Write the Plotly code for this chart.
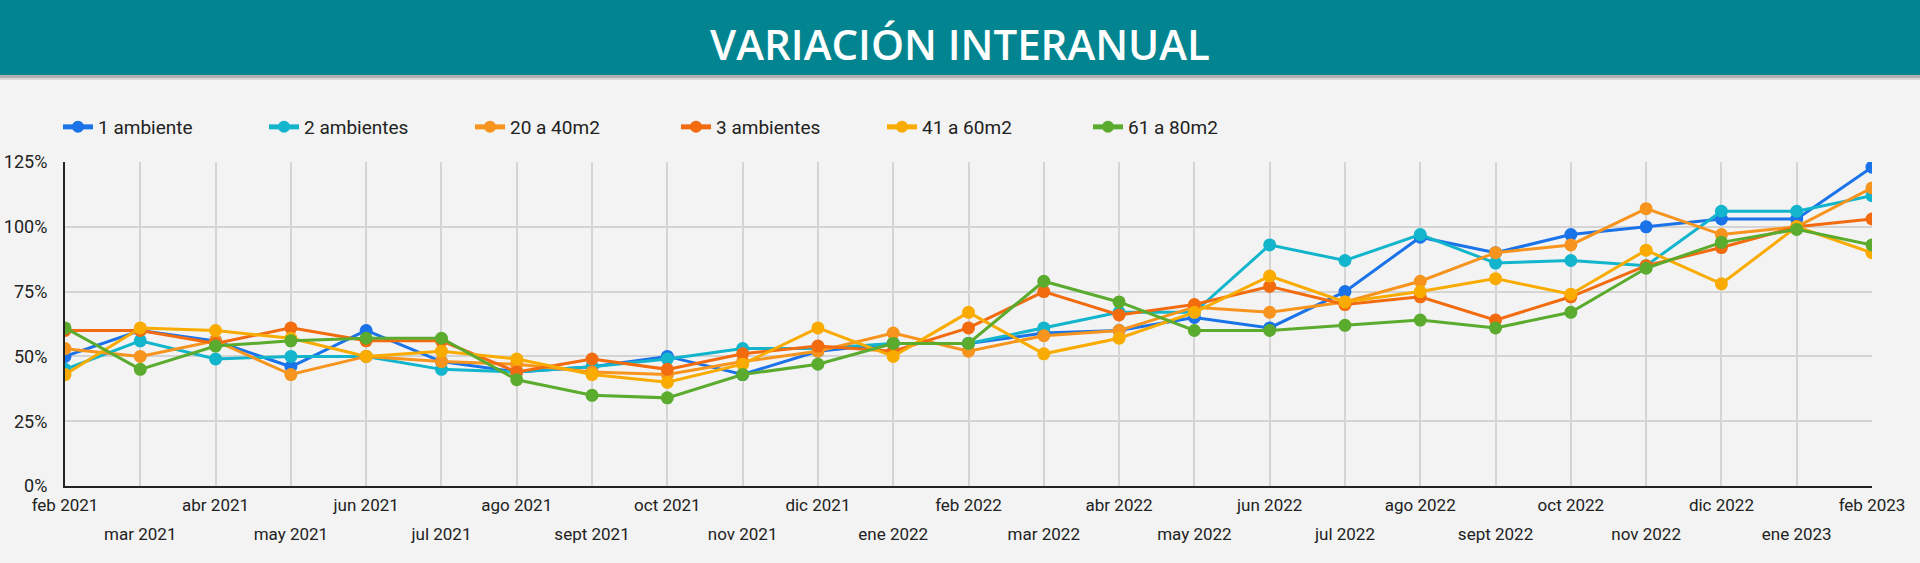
import plotly.graph_objects as go

months = ["feb 2021", "mar 2021", "abr 2021", "may 2021", "jun 2021", "jul 2021",
          "ago 2021", "sept 2021", "oct 2021", "nov 2021", "dic 2021", "ene 2022",
          "feb 2022", "mar 2022", "abr 2022", "may 2022", "jun 2022", "jul 2022",
          "ago 2022", "sept 2022", "oct 2022", "nov 2022", "dic 2022", "ene 2023",
          "feb 2023"]

amb1 = [50, 60, 56, 46, 60, 48, 44, 46, 50, 43, 52, 55, 55, 59, 60, 65, 61, 75, 96, 90, 97, 100, 103, 103, 123]
amb2 = [45, 56, 49, 50, 50, 45, 44, 46, 49, 53, 53, 55, 55, 61, 67, 67, 93, 87, 97, 86, 87, 85, 106, 106, 112]
m20a40 = [53, 50, 56, 43, 50, 48, 47, 44, 43, 48, 52, 59, 52, 58, 60, 69, 67, 71, 79, 90, 93, 107, 97, 100, 115]
amb3 = [60, 60, 55, 61, 56, 56, 44, 49, 45, 51, 54, 52, 61, 75, 66, 70, 77, 70, 73, 64, 73, 85, 92, 100, 103]
m41a60 = [43, 61, 60, 57, 50, 52, 49, 43, 40, 47, 61, 50, 67, 51, 57, 67, 81, 71, 75, 80, 74, 91, 78, 100, 90]
m61a80 = [61, 45, 54, 56, 57, 57, 41, 35, 34, 43, 47, 55, 55, 79, 71, 60, 60, 62, 64, 61, 67, 84, 94, 99, 93]

names = ["1 ambiente", "2 ambientes", "20 a 40m2", "3 ambientes", "41 a 60m2", "61 a 80m2"]
values = [amb1, amb2, m20a40, amb3, m41a60, m61a80]
colors = ["#1a73e8", "#12b5cb", "#f7941d", "#f26b0f", "#f9ab00", "#5aab2e"]

y_ticks = [0, 25, 50, 75, 100, 125]
y_labels = ["0%", "25%", "50%", "75%", "100%", "125%"]

W, H = 1920, 563
ML, MR, MT, MB = 65, 48, 162, 77
PW, PH = W - ML - MR, H - MT - MB

fig = go.Figure()
for n, v, c in zip(names, values, colors):
    fig.add_trace(go.Scatter(
        x=months, y=v, name=n, mode="lines+markers",
        line=dict(color=c, width=3),
        marker=dict(color=c, size=13),
        xaxis="x", yaxis="y",
    ))

# invisible carrier trace so the second-row label axis is drawn
fig.add_trace(go.Scatter(
    x=months, y=amb1, xaxis="x2", yaxis="y", mode="lines",
    opacity=0, showlegend=False, hoverinfo="skip",
))


def px_x(px):
    return (px - ML) / PW


def px_y(py):
    return (H - MB - py) / PH


shapes = [
    dict(type="rect", xref="paper", yref="paper",
         x0=px_x(0), x1=px_x(W), y0=px_y(80), y1=px_y(0),
         fillcolor="rgba(0,0,0,0.10)", line=dict(width=0), layer="below"),
    dict(type="rect", xref="paper", yref="paper",
         x0=px_x(0), x1=px_x(W), y0=px_y(78), y1=px_y(0),
         fillcolor="rgba(0,0,0,0.18)", line=dict(width=0), layer="below"),
    dict(type="rect", xref="paper", yref="paper",
         x0=px_x(0), x1=px_x(W), y0=px_y(75), y1=px_y(0),
         fillcolor="#028590", line=dict(width=0), layer="below"),
]

top_text = [m if i % 2 == 0 else "" for i, m in enumerate(months)]
odd_vals = months[1::2]

fig.update_layout(
    width=W, height=H,
    margin=dict(l=ML, r=MR, t=MT, b=MB, autoexpand=False),
    paper_bgcolor="#f3f3f3", plot_bgcolor="#f3f3f3",
    font=dict(family="Roboto", size=18, color="#222222"),
    title=dict(text="VARIACIÓN INTERANUAL", x=0.5, xanchor="center",
               y=1 - 45 / H, yanchor="middle", yref="container",
               font=dict(family="Open Sans", size=42, color="#ffffff", weight=600)),
    showlegend=True,
    legend=dict(orientation="h", xref="container", yref="container",
                x=58 / W, xanchor="left", y=1 - 127 / H, yanchor="middle",
                font=dict(family="Roboto", size=19, color="#222222"),
                entrywidth=161, entrywidthmode="pixels",
                bgcolor="rgba(0,0,0,0)", itemsizing="constant"),
    shapes=shapes,
    xaxis=dict(type="category", categoryorder="array", categoryarray=months,
               range=[0, len(months) - 1], automargin=False,
               tickvals=months, ticktext=top_text, tickangle=0,
               showgrid=True, gridcolor="#d4d4d4", gridwidth=1.5, zeroline=False,
               showline=True, linecolor="#222222", linewidth=2,
               ticks="", ticklabelstandoff=3, tickfont=dict(size=17, color="#222222")),
    xaxis2=dict(type="category", categoryorder="array", categoryarray=months,
                overlaying="x", matches="x", anchor="y", side="bottom",
                range=[0, len(months) - 1], automargin=False,
                tickvals=odd_vals, ticktext=odd_vals, tickangle=0,
                showgrid=False, zeroline=False, showline=False,
                ticks="", ticklabelstandoff=36, tickfont=dict(size=17, color="#222222")),
    yaxis=dict(range=[0, 125], tickvals=y_ticks, ticktext=y_labels, automargin=False,
               showgrid=True, gridcolor="#d4d4d4", gridwidth=1.5,
               zeroline=False, showline=True, linecolor="#222222", linewidth=2,
               ticks="", ticklabelstandoff=12, tickfont=dict(size=18, color="#222222")),
)

fig.write_html("out.html",
               config={"displayModeBar": False},
               post_script="document.body.style.margin='0';document.body.style.overflow='hidden';")
